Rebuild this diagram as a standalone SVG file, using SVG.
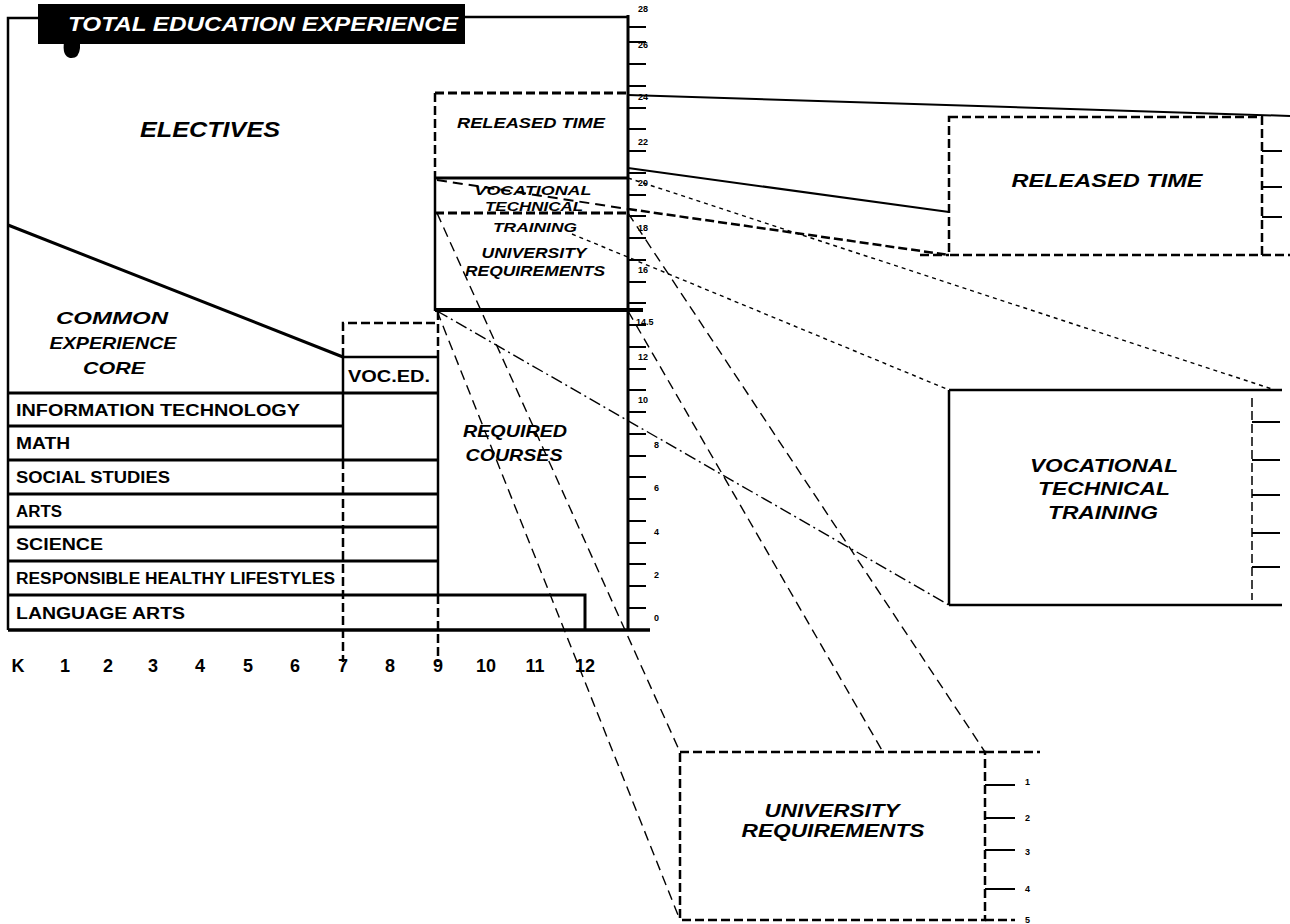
<svg xmlns="http://www.w3.org/2000/svg" width="1290" height="924" viewBox="0 0 1290 924">
<style>
.ln{stroke:#000;stroke-width:2.5;fill:none}
.thk{stroke-width:4}
.bd{stroke:#000;stroke-width:2.5;fill:none;stroke-dasharray:9 4}
.pd{stroke:#000;stroke-width:1.4;fill:none;stroke-dasharray:10 6}
.pdt{stroke:#000;stroke-width:1.4;fill:none;stroke-dasharray:4 4}
.pdd{stroke:#000;stroke-width:1.4;fill:none;stroke-dasharray:12 4 2 4}
.ps{stroke:#000;stroke-width:2;fill:none}
.t{font-family:"Liberation Sans",Arial,sans-serif;font-weight:bold;fill:#000}
.i{font-style:italic}
.ax{font-family:"Liberation Sans",Arial,sans-serif;font-weight:bold;font-size:9px;fill:#000}
.tk{stroke:#000;stroke-width:2}
</style>

<g id="title">
<rect x="38" y="4" width="427" height="40" fill="#000"/>
<path d="M64 42 Q62 56 70 58 Q79 59 80 48 L80 42 Z" fill="#000"/>
<text class="t i" x="68" y="31" font-size="21" style="fill:#fff" textLength="390" lengthAdjust="spacingAndGlyphs">TOTAL EDUCATION EXPERIENCE</text>
</g>

<g id="chart-frame">
<polyline class="ln" points="38,18 8,18 8,630"/>
<line class="ln" x1="465" y1="17" x2="628" y2="17"/>
<line class="ln" x1="8" y1="630" x2="650" y2="630" style="stroke-width:3.5"/>
</g>

<g id="right-axis">
<line class="ln" x1="628" y1="15" x2="628" y2="631" style="stroke-width:3"/>
<g class="tk">
<line x1="628" y1="608" x2="646" y2="608"/><line x1="628" y1="586" x2="646" y2="586"/>
<line x1="628" y1="564" x2="646" y2="564"/><line x1="628" y1="543" x2="646" y2="543"/>
<line x1="628" y1="521" x2="646" y2="521"/><line x1="628" y1="499" x2="646" y2="499"/>
<line x1="628" y1="477" x2="646" y2="477"/><line x1="628" y1="456" x2="646" y2="456"/>
<line x1="628" y1="434" x2="646" y2="434"/><line x1="628" y1="412" x2="646" y2="412"/>
<line x1="628" y1="390" x2="646" y2="390"/><line x1="628" y1="369" x2="646" y2="369"/>
<line x1="628" y1="347" x2="646" y2="347"/><line x1="628" y1="325" x2="646" y2="325"/>
<line x1="628" y1="303" x2="646" y2="303"/><line x1="628" y1="282" x2="646" y2="282"/>
<line x1="628" y1="260" x2="646" y2="260"/><line x1="628" y1="238" x2="646" y2="238"/>
<line x1="628" y1="216" x2="646" y2="216"/><line x1="628" y1="195" x2="646" y2="195"/>
<line x1="628" y1="173" x2="646" y2="173"/><line x1="628" y1="151" x2="646" y2="151"/>
<line x1="628" y1="129" x2="646" y2="129"/><line x1="628" y1="108" x2="646" y2="108"/>
<line x1="628" y1="86" x2="646" y2="86"/><line x1="628" y1="64" x2="646" y2="64"/>
<line x1="628" y1="42" x2="646" y2="42"/><line x1="628" y1="27" x2="646" y2="27"/>
</g>
<text class="ax" x="638" y="12">28</text>
<text class="ax" x="638" y="48">26</text>
<text class="ax" x="638" y="100">24</text>
<text class="ax" x="638" y="145">22</text>
<text class="ax" x="638" y="186">20</text>
<text class="ax" x="638" y="231">18</text>
<text class="ax" x="638" y="273">16</text>
<text class="ax" x="636" y="325">14.5</text>
<text class="ax" x="638" y="360">12</text>
<text class="ax" x="638" y="403">10</text>
<text class="ax" x="654" y="448">8</text>
<text class="ax" x="654" y="491">6</text>
<text class="ax" x="654" y="535">4</text>
<text class="ax" x="654" y="578">2</text>
<text class="ax" x="654" y="621">0</text>
</g>

<g id="bottom-axis" class="t" font-size="18" text-anchor="middle">
<text x="18" y="672">K</text><text x="65" y="672">1</text><text x="108" y="672">2</text>
<text x="153" y="672">3</text><text x="200" y="672">4</text><text x="248" y="672">5</text>
<text x="295" y="672">6</text><text x="343" y="672">7</text><text x="390" y="672">8</text>
<text x="438" y="672">9</text><text x="486" y="672">10</text><text x="535" y="672">11</text>
<text x="585" y="672">12</text>
</g>

<g id="electives">
<text class="t i" x="210" y="137" font-size="22" text-anchor="middle" textLength="140" lengthAdjust="spacingAndGlyphs">ELECTIVES</text>
<line class="ln" x1="8" y1="225" x2="343" y2="357" style="stroke-width:3"/>
</g>

<g id="common-core">
<text class="t i" x="112" y="324" font-size="17" text-anchor="middle" textLength="112" lengthAdjust="spacingAndGlyphs">COMMON</text>
<text class="t i" x="113" y="349" font-size="17" text-anchor="middle" textLength="127" lengthAdjust="spacingAndGlyphs">EXPERIENCE</text>
<text class="t i" x="114" y="374" font-size="17" text-anchor="middle" textLength="62" lengthAdjust="spacingAndGlyphs">CORE</text>
</g>

<g id="voc-ed">
<polyline class="bd" points="343,357 343,323 438,323"/>
<line class="bd" x1="438" y1="311" x2="438" y2="357"/>
<line class="ln" x1="343" y1="357" x2="438" y2="357"/>
<line class="ln" x1="343" y1="357" x2="343" y2="460"/>
<line class="bd" x1="343" y1="460" x2="343" y2="662"/>
<text class="t" x="348" y="382" font-size="16" textLength="82" lengthAdjust="spacingAndGlyphs">VOC.ED.</text>
</g>

<g id="subject-rows">
<line class="ln" x1="8" y1="393" x2="438" y2="393" style="stroke-width:3"/>
<line class="ln" x1="8" y1="426" x2="343" y2="426" style="stroke-width:3"/>
<line class="ln" x1="8" y1="460" x2="438" y2="460" style="stroke-width:3"/>
<line class="ln" x1="8" y1="494" x2="438" y2="494" style="stroke-width:3"/>
<line class="ln" x1="8" y1="527" x2="438" y2="527" style="stroke-width:3"/>
<line class="ln" x1="8" y1="561" x2="438" y2="561" style="stroke-width:3"/>
<polyline class="ln" points="8,595 585,595 585,630" style="stroke-width:3"/>
<line class="ln" x1="438" y1="357" x2="438" y2="595"/>
<line class="bd" x1="438" y1="595" x2="438" y2="662"/>
<g class="t" font-size="16">
<text x="16" y="416" textLength="284" lengthAdjust="spacingAndGlyphs">INFORMATION TECHNOLOGY</text>
<text x="16" y="449" textLength="54" lengthAdjust="spacingAndGlyphs">MATH</text>
<text x="16" y="483" textLength="154" lengthAdjust="spacingAndGlyphs">SOCIAL STUDIES</text>
<text x="16" y="517" textLength="46" lengthAdjust="spacingAndGlyphs">ARTS</text>
<text x="16" y="550" textLength="87" lengthAdjust="spacingAndGlyphs">SCIENCE</text>
<text x="16" y="584" textLength="319" lengthAdjust="spacingAndGlyphs">RESPONSIBLE HEALTHY LIFESTYLES</text>
<text x="16" y="619" textLength="169" lengthAdjust="spacingAndGlyphs">LANGUAGE ARTS</text>
</g>
</g>

<g id="required-courses">
<text class="t i" x="515" y="437" font-size="17" text-anchor="middle" textLength="104" lengthAdjust="spacingAndGlyphs">REQUIRED</text>
<text class="t i" x="514" y="461" font-size="17" text-anchor="middle" textLength="97" lengthAdjust="spacingAndGlyphs">COURSES</text>
</g>

<g id="released-time-small">
<line class="bd" x1="435" y1="93" x2="628" y2="93" style="stroke-width:3"/>
<line class="bd" x1="435" y1="93" x2="435" y2="178"/>
<text class="t i" x="531" y="128" font-size="14" text-anchor="middle" textLength="148" lengthAdjust="spacingAndGlyphs">RELEASED TIME</text>
</g>

<g id="vocational-small">
<line class="ln" x1="435" y1="178" x2="628" y2="178" style="stroke-width:3"/>
<line class="ln" x1="435" y1="178" x2="435" y2="311"/>
<line class="bd" x1="435" y1="213" x2="628" y2="213" style="stroke-width:3"/>
<text class="t i" x="533" y="195" font-size="12" text-anchor="middle" textLength="117" lengthAdjust="spacingAndGlyphs">VOCATIONAL</text>
<text class="t i" x="534" y="211" font-size="12" text-anchor="middle" textLength="98" lengthAdjust="spacingAndGlyphs">TECHNICAL</text>
<text class="t i" x="535" y="232" font-size="13" text-anchor="middle" textLength="84" lengthAdjust="spacingAndGlyphs">TRAINING</text>
</g>

<g id="university-small">
<line class="ln" x1="435" y1="310" x2="643" y2="310" style="stroke-width:4"/>
<text class="t i" x="534" y="258" font-size="14" text-anchor="middle" textLength="105" lengthAdjust="spacingAndGlyphs">UNIVERSITY</text>
<text class="t i" x="535" y="276" font-size="14" text-anchor="middle" textLength="140" lengthAdjust="spacingAndGlyphs">REQUIREMENTS</text>
</g>

<g id="released-time-box">
<rect class="bd" x="949" y="117" width="313" height="138"/>
<line class="bd" x1="920" y1="255" x2="949" y2="255"/>
<line class="bd" x1="1262" y1="255" x2="1290" y2="255"/>
<g class="tk">
<line x1="1262" y1="151" x2="1282" y2="151"/>
<line x1="1262" y1="187" x2="1282" y2="187"/>
<line x1="1262" y1="217" x2="1282" y2="217"/>
</g>
<text class="t i" x="1107" y="187" font-size="19" text-anchor="middle" textLength="191" lengthAdjust="spacingAndGlyphs">RELEASED TIME</text>
</g>

<g id="vocational-box">
<line class="ln" x1="949" y1="390" x2="1282" y2="390"/>
<line class="ln" x1="949" y1="605" x2="1282" y2="605"/>
<line class="ln" x1="949" y1="390" x2="949" y2="605"/>
<line class="bd" x1="1252" y1="398" x2="1252" y2="600" style="stroke-width:1.5"/>
<g class="tk">
<line x1="1252" y1="422" x2="1280" y2="422"/>
<line x1="1252" y1="460" x2="1280" y2="460"/>
<line x1="1252" y1="495" x2="1280" y2="495"/>
<line x1="1252" y1="533" x2="1280" y2="533"/>
<line x1="1252" y1="567" x2="1280" y2="567"/>
</g>
<text class="t i" x="1104" y="472" font-size="19" text-anchor="middle" textLength="148" lengthAdjust="spacingAndGlyphs">VOCATIONAL</text>
<text class="t i" x="1104" y="495" font-size="19" text-anchor="middle" textLength="132" lengthAdjust="spacingAndGlyphs">TECHNICAL</text>
<text class="t i" x="1103" y="519" font-size="19" text-anchor="middle" textLength="110" lengthAdjust="spacingAndGlyphs">TRAINING</text>
</g>

<g id="university-box">
<rect class="bd" x="680" y="752" width="305" height="168"/>
<line class="bd" x1="985" y1="752" x2="1040" y2="752"/>
<line class="bd" x1="985" y1="920" x2="1015" y2="920"/>
<g class="tk">
<line x1="985" y1="785" x2="1015" y2="785"/>
<line x1="985" y1="818" x2="1015" y2="818"/>
<line x1="985" y1="850" x2="1015" y2="850"/>
<line x1="985" y1="889" x2="1015" y2="889"/>
</g>
<g class="ax" font-size="9">
<text x="1025" y="785">1</text><text x="1025" y="821">2</text><text x="1025" y="855">3</text>
<text x="1025" y="892">4</text><text x="1025" y="923">5</text>
</g>
<text class="t i" x="832" y="817" font-size="19" text-anchor="middle" textLength="135" lengthAdjust="spacingAndGlyphs">UNIVERSITY</text>
<text class="t i" x="833" y="837" font-size="19" text-anchor="middle" textLength="183" lengthAdjust="spacingAndGlyphs">REQUIREMENTS</text>
</g>

<g id="connectors">
<line class="ps" x1="628" y1="95" x2="1290" y2="116"/>
<line class="ps" x1="628" y1="168" x2="949" y2="212"/>
<line class="pd" x1="437" y1="180" x2="628" y2="209" style="stroke-width:2"/>
<line class="bd" x1="628" y1="209" x2="949" y2="255"/>
<line class="pdt" x1="628" y1="178" x2="1275" y2="390"/>
<line class="pdt" x1="572" y1="234" x2="949" y2="390"/>
<line class="pdd" x1="437" y1="311" x2="949" y2="605"/>
<line class="pd" x1="437" y1="213" x2="680" y2="752"/>
<line class="pd" x1="437" y1="311" x2="680" y2="920"/>
<line class="pd" x1="628" y1="213" x2="985" y2="752"/>
<line class="pd" x1="628" y1="311" x2="883" y2="752"/>
</g>
</svg>
